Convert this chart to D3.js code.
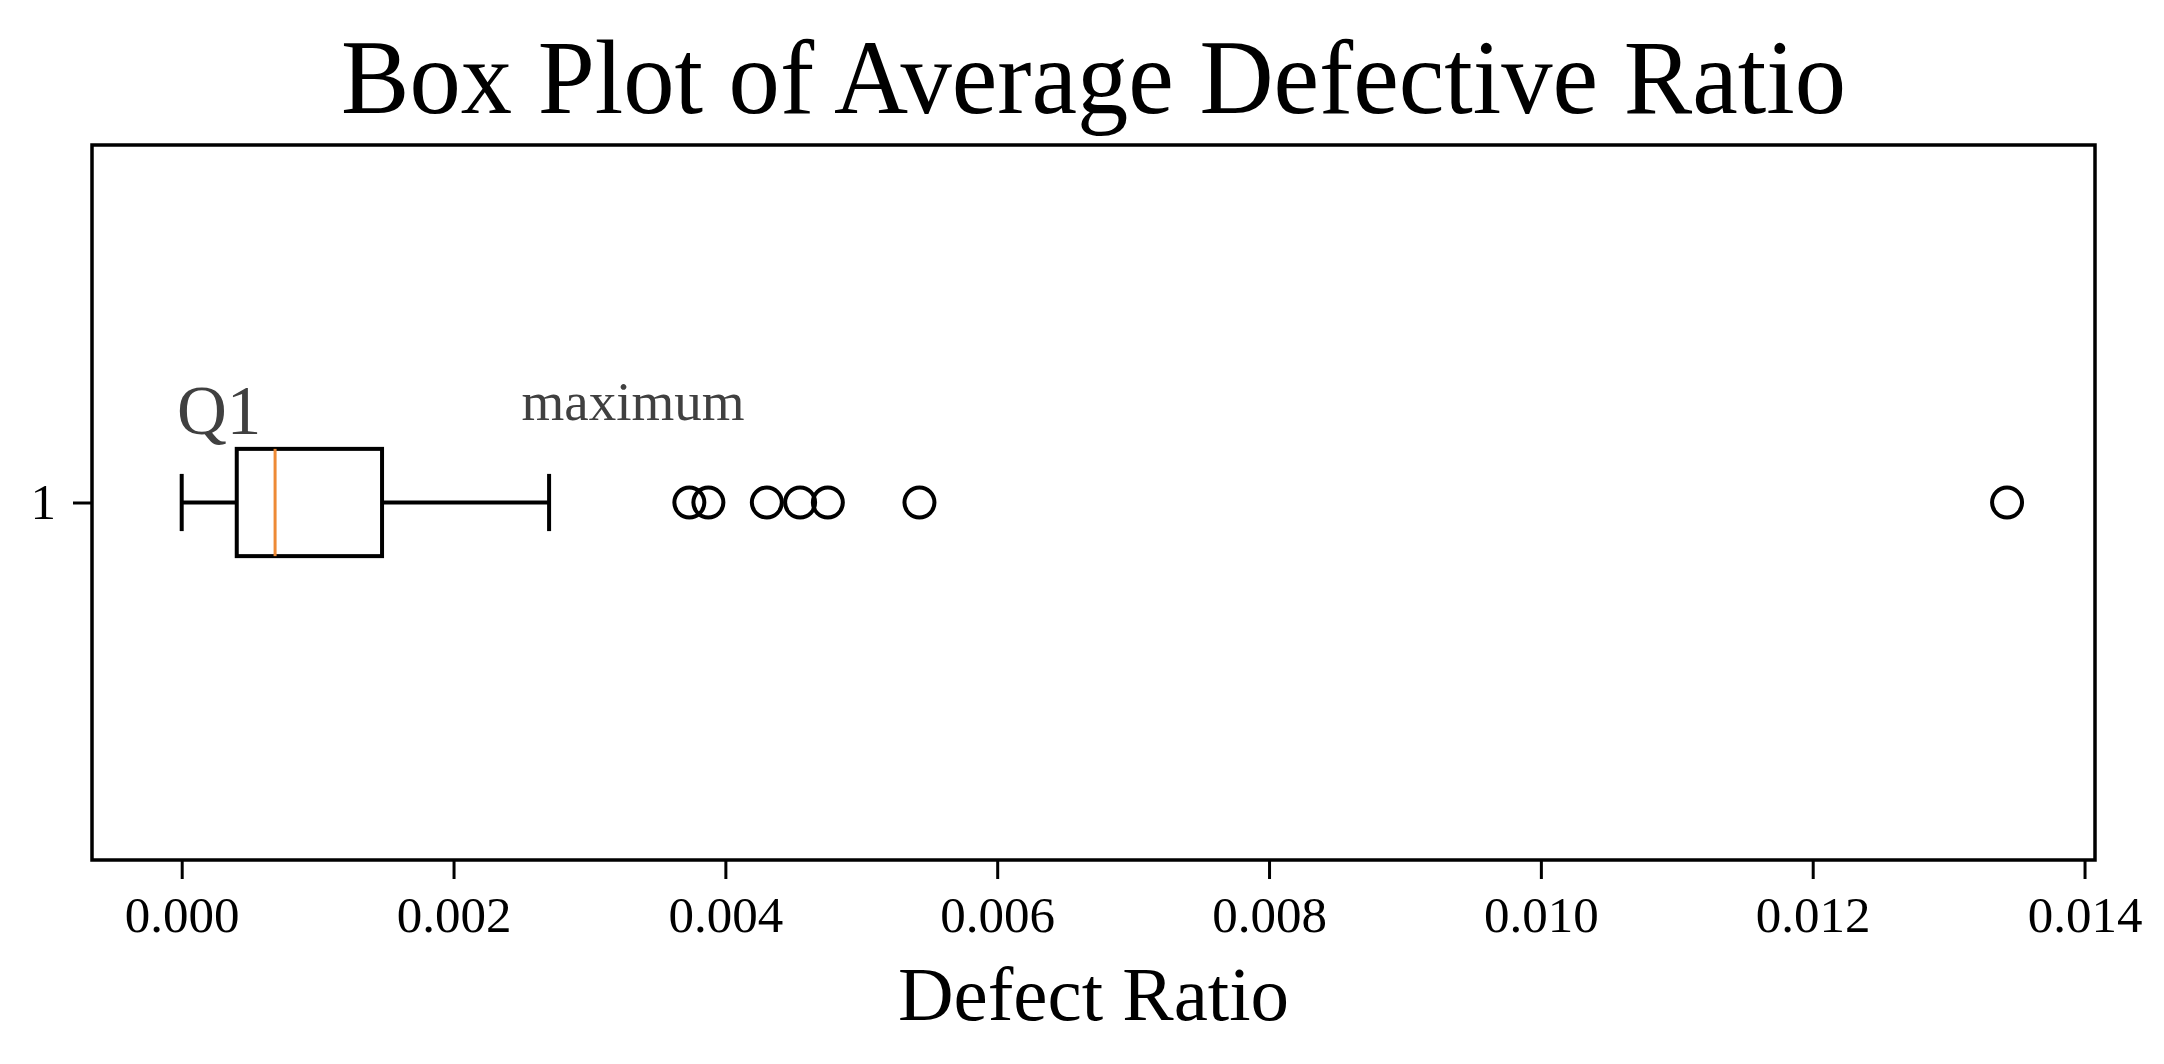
<!DOCTYPE html>
<html>
<head>
<meta charset="utf-8">
<script src="https://cdn.jsdelivr.net/npm/d3@7"></script>
<style>
  html, body { margin: 0; padding: 0; background: #ffffff; }
  svg { display: block; }
</style>
</head>
<body>
<svg id="chart" width="2164" height="1064"></svg>
<script>
// ---- data ----
const categories = ["1"];
const whiskerLow = [0.0];
const q1Values = [0.000405];
const medianValues = [0.000687];
const q3Values = [0.001474];
const whiskerHigh = [0.002703];
const outlierValues = [0.003735, 0.003875, 0.004305, 0.004550, 0.004754, 0.005428, 0.013430];
const xTickValues = [0.000, 0.002, 0.004, 0.006, 0.008, 0.010, 0.012, 0.014];
const annotationTexts = ["Q1", "maximum"];
const annotationX = [-0.000035, 0.0025];
const annotationY = [1.096, 1.115];
const titleText = "Box Plot of Average Defective Ratio";
const xLabelText = "Defect Ratio";

// ---- layout ----
const W = 2164, H = 1064;
const plot = { left: 92, right: 2095, top: 145, bottom: 860 };
const FONT = "'Liberation Serif', 'Times New Roman', Times, serif";

const svg = d3.select("#chart");
svg.append("rect").attr("width", W).attr("height", H).attr("fill", "#ffffff");

const x = d3.scaleLinear().domain([-0.00066, 0.014077]).range([plot.left, plot.right]);
const y = d3.scaleLinear().domain([0.5, 1.5]).range([plot.bottom, plot.top]);
const boxHalf = 0.075;   // box width 0.15
const capHalf = 0.04;    // cap width

// title
svg.append("text")
  .attr("x", (plot.left + plot.right) / 2)
  .attr("y", 113)
  .attr("text-anchor", "middle")
  .attr("font-family", FONT)
  .attr("font-size", 106)
  .attr("textLength", 1505)
  .attr("lengthAdjust", "spacingAndGlyphs")
  .attr("fill", "#000")
  .text(titleText);

// axes
const xAxis = d3.axisBottom(x).tickValues(xTickValues).tickFormat(d3.format(".3f"))
  .tickSize(19).tickPadding(17);
const gx = svg.append("g").attr("transform", `translate(0,${plot.bottom})`).call(xAxis);
gx.select(".domain").remove();
gx.selectAll(".tick line").attr("stroke", "#000").attr("stroke-width", 3);
gx.selectAll(".tick text").attr("font-family", FONT).attr("font-size", 51).attr("fill", "#000");

const yAxis = d3.axisLeft(y).tickValues(categories.map((c, i) => i + 1))
  .tickFormat((d, i) => categories[i]).tickSize(19).tickPadding(17);
const gy = svg.append("g").attr("transform", `translate(${plot.left},0)`).call(yAxis);
gy.select(".domain").remove();
gy.selectAll(".tick line").attr("stroke", "#000").attr("stroke-width", 3);
gy.selectAll(".tick text").attr("font-family", FONT).attr("font-size", 51).attr("fill", "#000");

// frame
svg.append("rect")
  .attr("x", plot.left).attr("y", plot.top)
  .attr("width", plot.right - plot.left).attr("height", plot.bottom - plot.top)
  .attr("fill", "none").attr("stroke", "#000").attr("stroke-width", 3.5);

// boxes
const g = svg.append("g");
categories.forEach((c, i) => {
  const pos = i + 1;
  const lw = 4;
  // whiskers
  g.append("line").attr("x1", x(whiskerLow[i])).attr("x2", x(q1Values[i]))
    .attr("y1", y(pos)).attr("y2", y(pos)).attr("stroke", "#000").attr("stroke-width", lw);
  g.append("line").attr("x1", x(q3Values[i])).attr("x2", x(whiskerHigh[i]))
    .attr("y1", y(pos)).attr("y2", y(pos)).attr("stroke", "#000").attr("stroke-width", lw);
  // caps
  [whiskerLow[i], whiskerHigh[i]].forEach(v => {
    g.append("line").attr("x1", x(v)).attr("x2", x(v))
      .attr("y1", y(pos - capHalf)).attr("y2", y(pos + capHalf))
      .attr("stroke", "#000").attr("stroke-width", lw);
  });
  // box
  g.append("rect")
    .attr("x", x(q1Values[i])).attr("y", y(pos + boxHalf))
    .attr("width", x(q3Values[i]) - x(q1Values[i]))
    .attr("height", y(pos - boxHalf) - y(pos + boxHalf))
    .attr("fill", "none").attr("stroke", "#000").attr("stroke-width", lw);
  // median
  g.append("line").attr("x1", x(medianValues[i])).attr("x2", x(medianValues[i]))
    .attr("y1", y(pos + boxHalf)).attr("y2", y(pos - boxHalf))
    .attr("stroke", "#ee8a35").attr("stroke-width", 3);
  // outliers
  g.selectAll(null).data(outlierValues).enter().append("circle")
    .attr("cx", d => x(d)).attr("cy", y(pos)).attr("r", 15)
    .attr("fill", "none").attr("stroke", "#000").attr("stroke-width", 4);
});

// annotations
annotationTexts.forEach((t, i) => {
  svg.append("text")
    .attr("x", x(annotationX[i])).attr("y", y(annotationY[i]))
    .attr("font-family", FONT)
    .attr("font-size", i === 0 ? 69 : 55)
    .attr("fill", "#404040")
    .text(t);
});

// x label
svg.append("text")
  .attr("x", (plot.left + plot.right) / 2)
  .attr("y", 1020)
  .attr("text-anchor", "middle")
  .attr("font-family", FONT)
  .attr("font-size", 77)
  .attr("fill", "#000")
  .text(xLabelText);
</script>
</body>
</html>
